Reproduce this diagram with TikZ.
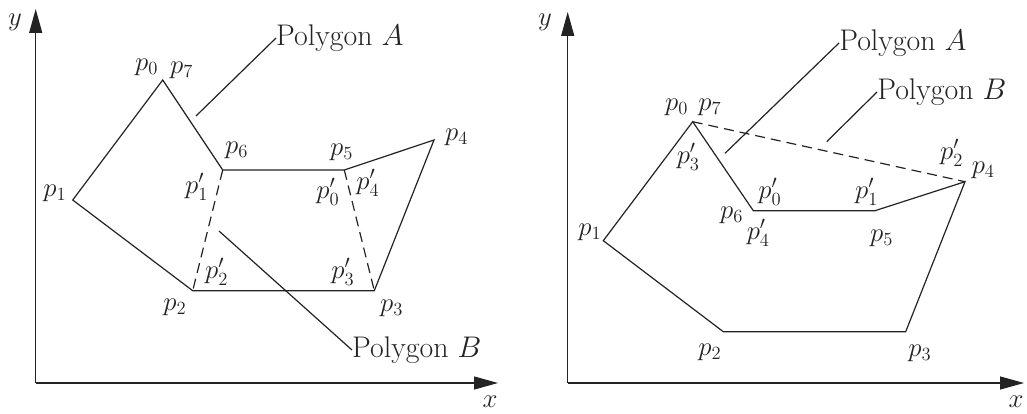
\documentclass[tikz,border=0pt]{standalone}
\usetikzlibrary{arrows.meta}
\definecolor{ink}{RGB}{35,35,35}
\tikzset{
	edge/.style={line width=1.2pt, draw=ink},
	hidden/.style={edge, dash pattern=on 10pt off 6pt},
	axis/.style={line width=1.2pt, draw=ink, -{Triangle[length=24pt, width=13pt, fill=ink]}},
	lbl/.style={text=ink, inner sep=0pt, font=\LARGE, scale=1.55},
	polylbl/.style={text=ink, inner sep=0pt, anchor=west, font=\Huge, scale=1.2},
}
\begin{document}
\begin{tikzpicture}[x=1pt, y=-1pt]
	\useasboundingbox (0,0) rectangle (1027,414);
	% Left panel: axes
	\coordinate (oL) at (35.7, 383);
	\coordinate (yL) at (35.7, 9);
	\coordinate (xL) at (498, 383);
	\draw[axis] (oL) -- (yL);
	\draw[axis] (oL) -- (xL);
	\node[lbl] (ylabL) at (15, 22) {$y$};
	\node[lbl] (xlabL) at (490, 402) {$x$};
	% Left panel: vertices
	\coordinate (a0) at (162.7, 80);
	\coordinate (a1) at (72.7, 200);
	\coordinate (a2) at (192.7, 290.7);
	\coordinate (a3) at (374.3, 290.7);
	\coordinate (a4) at (434, 140);
	\coordinate (a5) at (344.3, 170);
	\coordinate (a6) at (222.7, 170);
	\draw[edge] (a0) -- (a1) -- (a2) -- (a3) -- (a4) -- (a5) -- (a6) -- cycle;
	\draw[hidden] (a6) -- (a2);
	\draw[hidden] (a5) -- (a3);
	% Left panel: labels
	\node[lbl] (la0) at (146.7, 67) {$p_0$};
	\node[lbl] (la7) at (181.7, 70) {$p_7$};
	\node[lbl] (la1) at (55, 193) {$p_1$};
	\node[lbl] (la2) at (175, 307) {$p_2$};
	\node[lbl] (la3) at (391.7, 308) {$p_3$};
	\node[lbl] (la4) at (456.7, 137) {$p_4$};
	\node[lbl] (la5) at (341.7, 152) {$p_5$};
	\node[lbl] (la6) at (236.7, 150) {$p_6$};
	\node[lbl] (lb1) at (196.7, 187) {$p'_1$};
	\node[lbl] (lb0) at (328, 192) {$p'_0$};
	\node[lbl] (lb4) at (368, 183) {$p'_4$};
	\node[lbl] (lb2) at (216.7, 272) {$p'_2$};
	\node[lbl] (lb3) at (343, 272) {$p'_3$};
	% Left panel: leaders
	\node[polylbl] (polyAL) at (276, 38) {Polygon $A$};
	\node[polylbl] (polyBL) at (352, 350) {Polygon $B$};
	\coordinate (tipAL) at (196, 116);
	\coordinate (tipBL) at (219, 231);
	\draw[edge] (tipAL) -- (polyAL.west);
	\draw[edge] (tipBL) -- (polyBL.west);
	% Right panel: axes
	\coordinate (oR) at (567.7, 383);
	\coordinate (yR) at (567.7, 12);
	\coordinate (xR) at (1024, 383);
	\draw[axis] (oR) -- (yR);
	\draw[axis] (oR) -- (xR);
	\node[lbl] (ylabR) at (545, 22) {$y$};
	\node[lbl] (xlabR) at (1016, 402) {$x$};
	% Right panel: vertices
	\coordinate (b0) at (692.7, 121.7);
	\coordinate (b1) at (603.3, 240.7);
	\coordinate (b2) at (723.3, 331.7);
	\coordinate (b3) at (905.7, 331.7);
	\coordinate (b4) at (965, 181.7);
	\coordinate (b5) at (875, 210.7);
	\coordinate (b6) at (753.3, 210.7);
	\draw[edge] (b0) -- (b1) -- (b2) -- (b3) -- (b4) -- (b5) -- (b6) -- cycle;
	\draw[hidden] (b0) -- (b4);
	% Right panel: labels
	\node[lbl] (lc0) at (676.7, 107) {$p_0$};
	\node[lbl] (lc7) at (710, 107) {$p_7$};
	\node[lbl] (lc1) at (590, 232) {$p_1$};
	\node[lbl] (lc2) at (710, 352) {$p_2$};
	\node[lbl] (lc3) at (920, 353) {$p_3$};
	\node[lbl] (lc4) at (983.3, 170) {$p_4$};
	\node[lbl] (lc5) at (881.7, 238) {$p_5$};
	\node[lbl] (lc6) at (731.7, 215) {$p_6$};
	\node[lbl] (ld3) at (688.3, 157) {$p'_3$};
	\node[lbl] (ld0) at (770, 192) {$p'_0$};
	\node[lbl] (ld1) at (866.7, 192) {$p'_1$};
	\node[lbl] (ld2) at (951.7, 153) {$p'_2$};
	\node[lbl] (ld4) at (758.3, 233) {$p'_4$};
	% Right panel: leaders
	\node[polylbl] (polyAR) at (839, 43) {Polygon $A$};
	\node[polylbl] (polyBR) at (877, 92) {Polygon $B$};
	\coordinate (tipAR) at (725, 153.3);
	\coordinate (tipBR) at (826.7, 141.7);
	\draw[edge] (tipAR) -- (polyAR.west);
	\draw[edge] (tipBR) -- (polyBR.west);
\end{tikzpicture}
\end{document}
